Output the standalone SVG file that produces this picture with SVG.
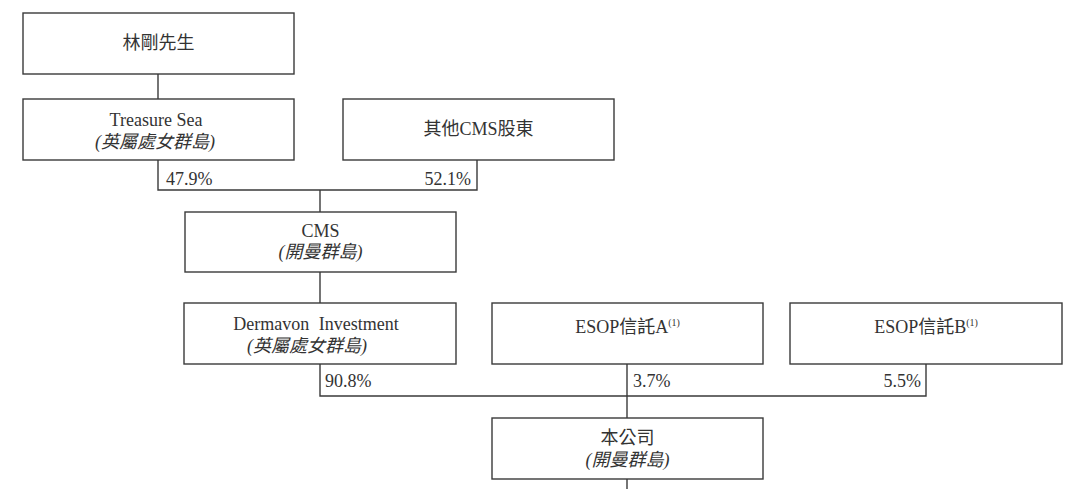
<svg xmlns="http://www.w3.org/2000/svg" width="1080" height="489" viewBox="0 0 1080 489">
<style>
.box{fill:#fff;stroke:#3a3a3a;stroke-width:1.4}
.ln{fill:none;stroke:#3a3a3a;stroke-width:1.4}
text{font-family:"Liberation Serif","Noto Sans CJK TC",serif;font-size:18px;fill:#333}
.c{text-anchor:middle}
.i{font-style:italic}
.sup{font-size:10px}
.r{text-anchor:end}
</style>
<rect width="1080" height="489" fill="#fff"/>
<g id="connectors">
<path class="ln" d="M158 74V99"/>
<path class="ln" d="M158 160V190H477V160"/>
<path class="ln" d="M320 190V212"/>
<path class="ln" d="M320 272V303"/>
<path class="ln" d="M320 364V396H926V364"/>
<path class="ln" d="M627 364V418"/>
<path class="ln" d="M627 479V489"/>
<text x="166" y="185">47.9%</text>
<text class="r" x="471" y="185">52.1%</text>
<text x="325" y="387">90.8%</text>
<text x="633" y="387">3.7%</text>
<text class="r" x="921" y="387">5.5%</text>
</g>
<g id="lin">
<rect class="box" x="23" y="13" width="271" height="61"/>
<text class="c" x="158.5" y="49">林剛先生</text>
</g>
<g id="treasure">
<rect class="box" x="23" y="99" width="271" height="61"/>
<text class="c" x="156" y="126">Treasure Sea</text>
<text class="c i" x="155" y="148" word-spacing="2">(英屬處女群島)</text>
</g>
<g id="other">
<rect class="box" x="343" y="99" width="271" height="61"/>
<text class="c" x="478.5" y="135">其他CMS股東</text>
</g>
<g id="cms">
<rect class="box" x="185" y="212" width="271" height="60"/>
<text class="c" x="320.5" y="237">CMS</text>
<text class="c i" x="320.5" y="258">(開曼群島)</text>
</g>
<g id="dermavon">
<rect class="box" x="184" y="303" width="272" height="61"/>
<text class="c" x="316" y="330" word-spacing="5">Dermavon Investment</text>
<text class="c i" x="307" y="352">(英屬處女群島)</text>
</g>
<g id="esopA">
<rect class="box" x="492" y="303" width="271" height="61"/>
<text class="c" x="627.5" y="333">ESOP信託A<tspan class="sup" dy="-7">(1)</tspan></text>
</g>
<g id="esopB">
<rect class="box" x="790" y="303" width="272" height="61"/>
<text class="c" x="926" y="333">ESOP信託B<tspan class="sup" dy="-7">(1)</tspan></text>
</g>
<g id="company">
<rect class="box" x="492" y="418" width="271" height="61"/>
<text class="c" x="627.5" y="444">本公司</text>
<text class="c i" x="627.5" y="466">(開曼群島)</text>
</g>
</svg>
